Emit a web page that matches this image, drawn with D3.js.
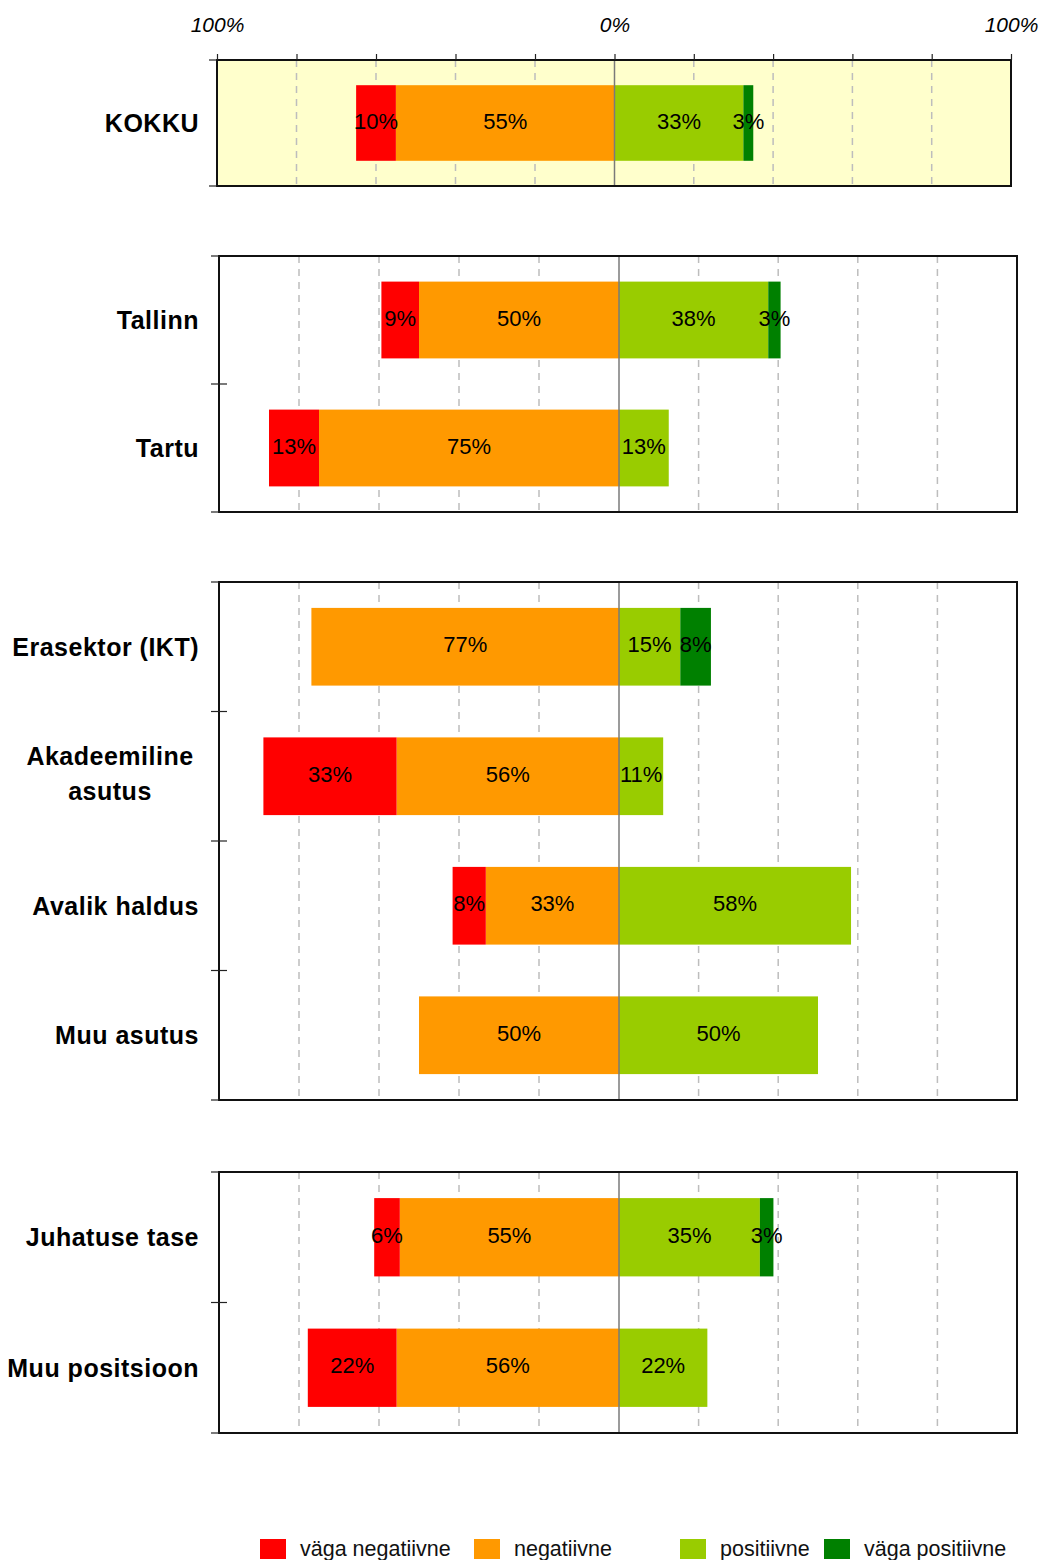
<!DOCTYPE html>
<html>
<head>
<meta charset="utf-8">
<script src="https://cdn.jsdelivr.net/npm/d3@7"></script>
<style>
  body { margin: 0; background: #fff; }
  text { font-family: "Liberation Sans", Arial, Helvetica, sans-serif; }
</style>
</head>
<body>
<script>
// categories, top to bottom, and which box each one sits in
var categories = ["KOKKU", "Tallinn", "Tartu", "Erasektor (IKT)", "Akadeemiline asutus",
                  "Avalik haldus", "Muu asutus", "Juhatuse tase", "Muu positsioon"];
var panelOf = [0, 1, 1, 2, 2, 2, 2, 3, 3];

// shares in percent
var vagaNegatiivne = [10, 9.4, 12.5, 0, 33.3, 8.3, 0, 6.4, 22.2];
var negatiivne     = [55, 50, 75, 76.9, 55.6, 33.3, 50, 54.8, 55.6];
var positiivne     = [32.5, 37.5, 12.5, 15.4, 11.1, 58.3, 50, 35.4, 22.2];
var vagaPositiivne = [2.5, 3.1, 0, 7.7, 0, 0, 0, 3.4, 0];

var seriesNames = ["väga negatiivne", "negatiivne", "positiivne", "väga positiivne"];
var tickValues = [-100, 0, 100];
var gridValues = [-80, -60, -40, -20, 20, 40, 60, 80];

var colors = {
	"väga negatiivne": "#ff0000",
	"negatiivne": "#ff9900",
	"positiivne": "#99cc00",
	"väga positiivne": "#008000"
};

var width = 1042;
var height = 1560;

// boxes (pixel layout)
var panels = [
	{top: 60,   bottom: 186,  left: 217, center: 614.5, right: 1011, fill: "#ffffcc"},
	{top: 256,  bottom: 512,  left: 219, center: 619,   right: 1017, fill: "#ffffff"},
	{top: 582,  bottom: 1100, left: 219, center: 619,   right: 1017, fill: "#ffffff"},
	{top: 1172, bottom: 1433, left: 219, center: 619,   right: 1017, fill: "#ffffff"}
];

var rows = categories.map(function(c, i) {
	return {
		name: c,
		panel: panelOf[i],
		"väga negatiivne": -vagaNegatiivne[i],
		"negatiivne": -negatiivne[i],
		"positiivne": positiivne[i],
		"väga positiivne": vagaPositiivne[i]
	};
});

// stack order: orange next to 0 then red outward, light green next to 0 then dark green
var stack = d3.stack()
	.keys(["negatiivne", "väga negatiivne", "positiivne", "väga positiivne"])
	.offset(d3.stackOffsetDiverging);
var layers = stack(rows);

var svg = d3.select("body")
	.append("svg")
	.attr("width", width)
	.attr("height", height);

panels.forEach(function(p, pi) {
	var xScale = d3.scaleLinear()
		.domain([-100, 0, 100])
		.range([p.left, p.center, p.right]);

	var panelRows = rows.filter(function(r) { return r.panel === pi; });

	var yScale = d3.scaleBand()
		.domain(panelRows.map(function(r) { return r.name; }))
		.range([p.top, p.bottom])
		.paddingInner(0.4)
		.paddingOuter(0.2);

	var g = svg.append("g");

	g.append("rect")
		.attr("x", p.left)
		.attr("y", p.top)
		.attr("width", p.right - p.left)
		.attr("height", p.bottom - p.top)
		.attr("fill", p.fill);

	// dashed grid
	g.selectAll(".grid")
		.data(gridValues)
		.enter().append("line")
		.attr("x1", function(d) { return xScale(d); })
		.attr("x2", function(d) { return xScale(d); })
		.attr("y1", p.top)
		.attr("y2", p.bottom)
		.attr("stroke", "#bdbdbd")
		.attr("stroke-width", 1.5)
		.style("stroke-dasharray", "7,6");

	// bars
	layers.forEach(function(layer) {
		var segs = layer.filter(function(d) { return d.data.panel === pi && d[1] - d[0] !== 0; });
		g.selectAll(null)
			.data(segs)
			.enter().append("rect")
			.attr("x", function(d) { return xScale(Math.min(d[0], d[1])); })
			.attr("width", function(d) { return Math.abs(xScale(d[1]) - xScale(d[0])); })
			.attr("y", function(d) { return yScale(d.data.name); })
			.attr("height", yScale.bandwidth())
			.attr("fill", colors[layer.key]);
	});

	// zero line
	g.append("line")
		.attr("x1", xScale(0)).attr("x2", xScale(0))
		.attr("y1", p.top).attr("y2", p.bottom)
		.attr("stroke", "#7a7a7a")
		.attr("stroke-width", 1.5);

	// value labels
	layers.forEach(function(layer) {
		var segs = layer.filter(function(d) { return d.data.panel === pi && d[1] - d[0] !== 0; });
		g.selectAll(null)
			.data(segs)
			.enter().append("text")
			.attr("x", function(d) { return xScale((d[0] + d[1]) / 2); })
			.attr("y", function(d) { return yScale(d.data.name) + yScale.bandwidth() / 2; })
			.attr("dy", "0.25em")
			.attr("text-anchor", "middle")
			.style("font-size", "22px")
			.attr("fill", "#000")
			.text(function(d) { return Math.round(Math.abs(d[1] - d[0])) + "%"; });
	});

	// frame
	g.append("rect")
		.attr("x", p.left)
		.attr("y", p.top)
		.attr("width", p.right - p.left)
		.attr("height", p.bottom - p.top)
		.attr("fill", "none")
		.attr("stroke", "#111")
		.attr("stroke-width", 2);

	// ticks at row boundaries on the left side
	var bounds = [p.top].concat(panelRows.map(function(r) {
		return yScale(r.name) + yScale.bandwidth() + yScale.step() * 0.2;
	}));
	g.selectAll(null)
		.data(bounds)
		.enter().append("line")
		.attr("x1", p.left - 8)
		.attr("x2", function(d, i) { return (i === 0 || i === bounds.length - 1) ? p.left : p.left + 8; })
		.attr("y1", function(d) { return d; })
		.attr("y2", function(d) { return d; })
		.attr("stroke", "#222")
		.attr("stroke-width", 1.2);

	// category labels
	panelRows.forEach(function(r) {
		var cy = yScale(r.name) + yScale.bandwidth() / 2;
		var lines = r.name === "Akadeemiline asutus" ? ["Akadeemiline", "asutus"] : [r.name];
		var t = g.append("text")
			.attr("y", cy)
			.style("font-size", "25px")
			.style("font-weight", "bold")
			.style("letter-spacing", "0.5px")
			.attr("fill", "#000");
		if (lines.length === 1) {
			t.attr("x", 199).attr("text-anchor", "end").attr("dy", "0.35em").text(r.name);
		} else {
			t.attr("text-anchor", "middle").attr("x", 110);
			lines.forEach(function(l, li) {
				t.append("tspan")
					.attr("x", 110)
					.attr("y", cy + (li === 0 ? -11.5 : 23.5))
					.text(l);
			});
		}
	});

	// top axis only on first box
	if (pi === 0) {
		var axis = d3.axisTop(xScale)
			.tickValues([-100, -80, -60, -40, -20, 0, 20, 40, 60, 80, 100])
			.tickSize(6)
			.tickFormat(function(d) { return tickValues.indexOf(d) >= 0 ? Math.abs(d) + "%" : ""; });
		var ax = svg.append("g")
			.attr("transform", "translate(0," + p.top + ")")
			.call(axis);
		ax.select(".domain").remove();
		ax.selectAll(".tick line").attr("stroke", "#222").attr("stroke-width", 1.2);
		ax.selectAll(".tick text")
			.attr("y", -28)
			.attr("dy", 0)
			.style("font-size", "21px")
			.style("font-style", "italic")
			.style("font-family", "'Liberation Sans', Arial, sans-serif")
			.attr("fill", "#000");
	}
});

// legend
var legendX = [260, 474, 680, 824];
var legend = svg.append("g");
seriesNames.forEach(function(s, i) {
	legend.append("rect")
		.attr("x", legendX[i])
		.attr("y", 1539)
		.attr("width", 26)
		.attr("height", 20)
		.attr("fill", colors[s]);
	legend.append("text")
		.attr("x", legendX[i] + 40)
		.attr("y", 1556)
		.style("font-size", "21.5px")
		.attr("fill", "#111")
		.text(s);
});
</script>
</body>
</html>
